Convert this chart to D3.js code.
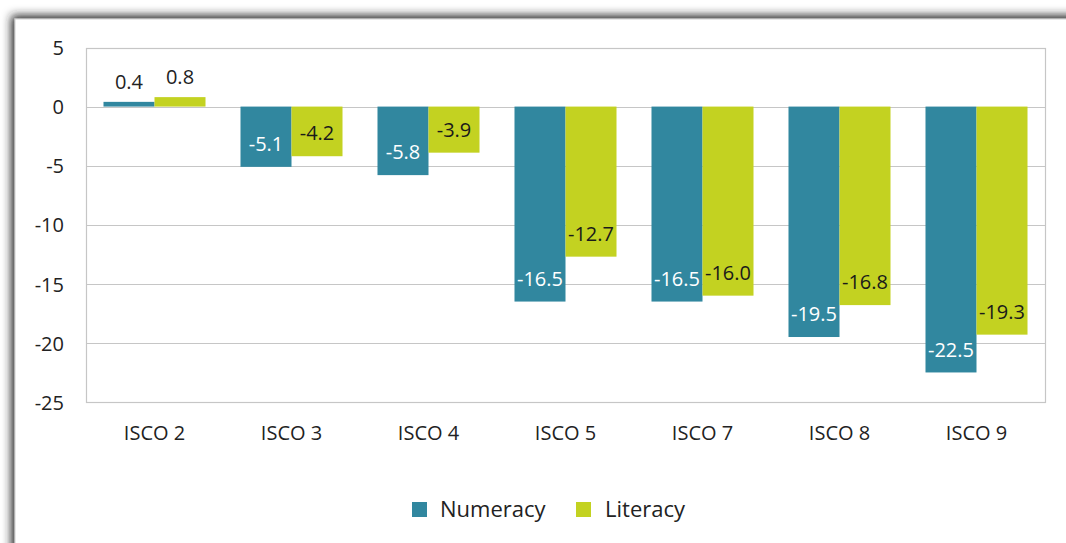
<!DOCTYPE html>
<html>
<head>
<meta charset="utf-8">
<script src="https://cdn.jsdelivr.net/npm/d3@7"></script>
<style>
  html, body { margin: 0; padding: 0; background: #fff; }
  svg { display: block; font-family: "Open Sans", "Noto Sans", sans-serif; }
</style>
</head>
<body>
<svg id="chart" width="1066" height="543"></svg>
<script>
const categories = ["ISCO 2", "ISCO 3", "ISCO 4", "ISCO 5", "ISCO 7", "ISCO 8", "ISCO 9"];
const numeracy = [0.4, -5.1, -5.8, -16.5, -16.5, -19.5, -22.5];
const literacy = [0.8, -4.2, -3.9, -12.7, -16.0, -16.8, -19.3];
const seriesNames = ["Numeracy", "Literacy"];
const yTicks = [5, 0, -5, -10, -15, -20, -25];

const colors = { Numeracy: "#31879f", Literacy: "#c3d221" };
const labelColors = { Numeracy: "#ffffff", Literacy: "#1a1a1a" };

const svg = d3.select("#chart");
const W = 1066, H = 543;

// frame with shadow
const defs = svg.append("defs");
const f = defs.append("filter").attr("id", "sh").attr("x", "-10%").attr("y", "-10%").attr("width", "130%").attr("height", "130%");
f.append("feDropShadow").attr("dx", -3).attr("dy", -3).attr("stdDeviation", 5)
  .attr("flood-color", "#202020").attr("flood-opacity", 1);
svg.append("rect").attr("x", 0).attr("y", 0).attr("width", W).attr("height", H).attr("fill", "#ffffff");
svg.append("rect").attr("x", 15).attr("y", 19).attr("width", W + 40).attr("height", H + 40)
  .attr("fill", "#ffffff").attr("stroke", "#d0d0d0").attr("stroke-width", 1).attr("filter", "url(#sh)");

const plot = { left: 86, right: 1045, top: 47.5, bottom: 402 };

const y = d3.scaleLinear().domain([-25, 5]).range([plot.bottom, plot.top]);
const x = d3.scaleBand().domain(categories).range([plot.left, plot.right]).padding(0);
const inner = d3.scaleBand().domain(seriesNames).range([0, x.bandwidth()]).paddingInner(0).paddingOuter(0.343);

const fmtTick = d => String(d);
const fmtVal = d => d.toFixed(1);

const g = svg.append("g");

// gridlines
g.append("g").selectAll("line").data(yTicks).join("line")
  .attr("x1", plot.left).attr("x2", plot.right)
  .attr("y1", d => Math.round(y(d)) + 0.5).attr("y2", d => Math.round(y(d)) + 0.5)
  .attr("stroke", "#c6c6c6").attr("stroke-width", 1.2);

// plot border
g.append("rect").attr("x", plot.left + 0.5).attr("y", Math.round(y(5)) + 0.5)
  .attr("width", plot.right - plot.left).attr("height", Math.round(y(-25)) - Math.round(y(5)))
  .attr("fill", "none").attr("stroke", "#c6c6c6").attr("stroke-width", 1.2);

// y axis labels
const yAxis = d3.axisLeft(y).tickValues(yTicks).tickSize(0).tickPadding(22).tickFormat(fmtTick);
const ya = svg.append("g").attr("transform", `translate(${plot.left},0)`).call(yAxis);
ya.select(".domain").remove();
ya.selectAll("text").attr("font-size", 20).attr("fill", "#222").attr("font-family", "Open Sans").attr("dy", "0.36em");

// x axis labels
const xAxis = d3.axisBottom(x).tickSize(0).tickPadding(0);
const xa = svg.append("g").attr("transform", `translate(0,${plot.bottom})`).call(xAxis);
xa.select(".domain").remove();
xa.selectAll("text").attr("font-size", 20).attr("fill", "#222").attr("font-family", "Open Sans")
  .attr("dy", null).attr("y", 38);

// bars
const data = categories.map((c, i) => ({ cat: c, Numeracy: numeracy[i], Literacy: literacy[i] }));
const groups = g.append("g").selectAll("g").data(data).join("g")
  .attr("transform", d => `translate(${x(d.cat)},0)`);

groups.selectAll("rect").data(d => seriesNames.map(s => ({ s, v: d[s] }))).join("rect")
  .attr("x", d => inner(d.s))
  .attr("width", inner.bandwidth())
  .attr("y", d => y(Math.max(0, d.v)))
  .attr("height", d => Math.abs(y(d.v) - y(0)))
  .attr("fill", d => colors[d.s]);

groups.selectAll("text").data(d => seriesNames.map(s => ({ s, v: d[s] }))).join("text")
  .attr("x", d => inner(d.s) + inner.bandwidth() / 2)
  .attr("y", d => d.v >= 0 ? y(d.v) - 20 : y(d.v) - 23)
  .attr("dy", "0.36em")
  .attr("text-anchor", "middle")
  .attr("font-size", 20)
  .attr("fill", d => d.v >= 0 ? "#222" : labelColors[d.s])
  .text(d => fmtVal(d.v));

// legend
const legend = svg.append("g");
const legendItems = [
  { name: "Numeracy", sx: 412, tx: 440 },
  { name: "Literacy", sx: 576, tx: 605 }
];
legend.selectAll("rect").data(legendItems).join("rect")
  .attr("x", d => d.sx).attr("y", 502).attr("width", 15).attr("height", 15)
  .attr("fill", d => colors[d.name]);
legend.selectAll("text").data(legendItems).join("text")
  .attr("x", d => d.tx).attr("y", 509.5).attr("dy", "0.36em")
  .attr("font-size", 22).attr("fill", "#222")
  .text(d => d.name);
</script>
</body>
</html>
